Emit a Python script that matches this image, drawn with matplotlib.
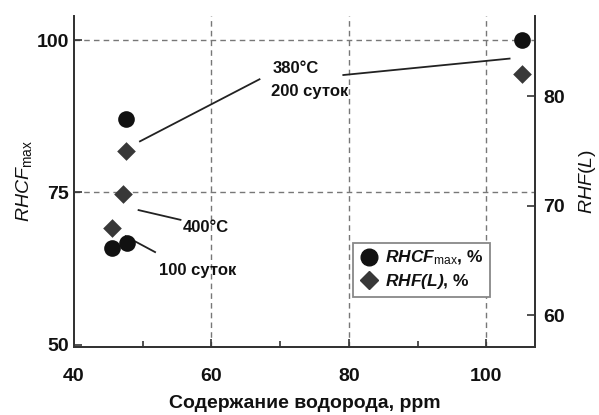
import matplotlib
matplotlib.use("Agg")
import matplotlib.pyplot as plt
from matplotlib.ticker import MultipleLocator
from matplotlib.lines import Line2D

FONT = ['Liberation Sans', 'DejaVu Sans']
plt.rcParams['font.family'] = FONT
plt.rcParams['mathtext.fontset'] = 'custom'
plt.rcParams['mathtext.rm'] = 'Liberation Sans'
plt.rcParams['mathtext.it'] = 'Liberation Sans:italic'
plt.rcParams['mathtext.bf'] = 'Liberation Sans:italic:bold'

# Data
h_circ = [47.5, 45.5, 47.7, 105.2]
rhcf = [87.0, 65.9, 66.7, 100.0]
h_diam = [47.6, 47.1, 45.6, 105.2]
rhf = [75.0, 71.1, 68.0, 82.0]

xticks = [40, 60, 80, 100]
yticks_left = [50, 75, 100]
yticks_right = [60, 70, 80]
xgrid = [60, 80, 100]
ygrid = [75, 100]

fig = plt.figure(figsize=(5.99, 4.15), dpi=100)
ax = fig.add_axes([74/599, 1-347/415, (535-74)/599, (347-16)/415])
ax2 = ax.twinx()

ax.set_xlim(40, 107.1)
ax.set_ylim(49.6, 104)
ax2.set_ylim(57.1, 87.3)

ax.scatter(h_circ, rhcf, s=12**2, marker='o', color='#111111', zorder=5, linewidths=0)
ax2.scatter(h_diam, rhf, s=9.5**2, marker='D', color='#383838', zorder=5, linewidths=0)

for a in (ax, ax2):
    a.spines['top'].set_visible(False)
    for s in a.spines.values():
        s.set_color('#333333')
        s.set_linewidth(1.3)

ax.set_xticks(xticks)
ax.xaxis.set_minor_locator(MultipleLocator(10))
ax.set_yticks(yticks_left)
ax2.set_yticks(yticks_right)

ax.tick_params(axis='both', which='major', direction='in', length=6, width=1.2,
               labelsize=14, colors='#333333', labelcolor='#111111')
ax.tick_params(axis='x', which='minor', direction='in', length=4, width=1.2, colors='#333333')
ax.tick_params(axis='x', which='major', pad=15)
ax2.tick_params(axis='y', which='major', direction='in', length=6, width=1.2,
                labelsize=14, colors='#333333', labelcolor='#111111', pad=6)
for lbl in ax.get_xticklabels() + ax.get_yticklabels() + ax2.get_yticklabels():
    lbl.set_fontweight('bold')

gkw = dict(linestyle=(0, (4, 3)), color='#777777', linewidth=1.0, zorder=0)
for gx in xgrid:
    ax.axvline(gx, **gkw)
for gy in ygrid:
    ax.axhline(gy, **gkw)

ax.set_xlabel('Содержание водорода, ppm', fontsize=14, fontweight='bold', color='#111111', labelpad=7)
ax.set_ylabel(r'$\mathit{RHCF}_{\mathrm{max}}$', fontsize=14, color='#111111', labelpad=2)
ax2.set_ylabel(r'$\mathit{RHF(L)}$', fontsize=14, color='#111111', labelpad=9)

# Annotations (data coords of left axis)
tk = dict(fontsize=12, fontweight='bold', color='#111111')
ax.plot([49.6, 67.0], [83.4, 93.6], color='#222222', lw=1.3)
ax.plot([79.2, 103.4], [94.3, 97.0], color='#222222', lw=1.3)
ax.text(68.9, 95.4, '380°C', ha='left', va='center', **tk)
ax.text(68.7, 91.6, '200 суток', ha='left', va='center', **tk)

ax.plot([49.4, 55.5], [72.1, 70.5], color='#222222', lw=1.3)
ax.text(55.8, 69.2, '400°C', ha='left', va='center', **tk)

ax.plot([47.5, 51.8], [67.8, 65.2], color='#222222', lw=1.3)
ax.text(52.3, 62.2, '100 суток', ha='left', va='center', **tk)

handles = [Line2D([], [], marker='o', ls='', color='#111111', ms=12),
           Line2D([], [], marker='D', ls='', color='#383838', ms=9.5)]
labels = [r'$\mathbf{RHCF}_{\mathrm{max}}$, %', r'$\mathbf{RHF(L)}$, %']
leg = ax.legend(handles, labels, loc='upper left', bbox_to_anchor=((353-74)/461, (347-243)/331),
                frameon=True, fancybox=False, framealpha=1, edgecolor='#888888',
                fontsize=12.5, handletextpad=0.3, borderpad=0.35, labelspacing=0.25,
                handlelength=1.2, borderaxespad=0)
leg.get_frame().set_linewidth(1.3)
for t in leg.get_texts():
    t.set_fontweight('bold')
    t.set_color('#111111')

fig.savefig('out.png', dpi=100)
